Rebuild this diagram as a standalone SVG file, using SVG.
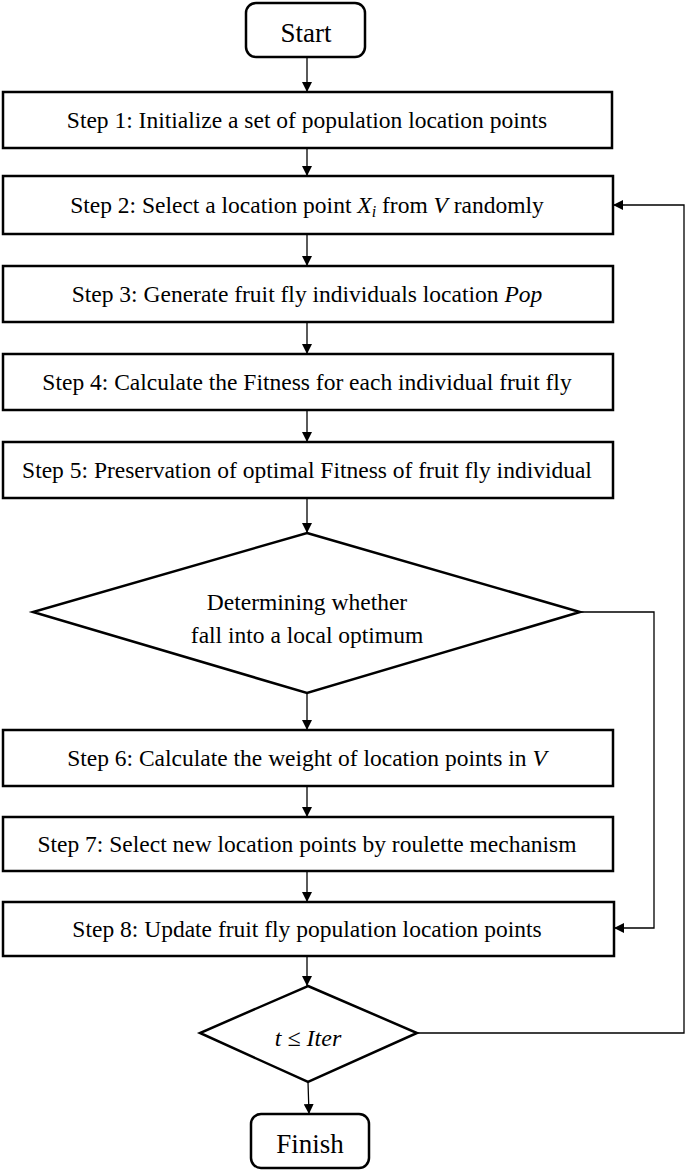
<svg xmlns="http://www.w3.org/2000/svg" width="685" height="1170" viewBox="0 0 685 1170">
<style>
.box{fill:#fff;stroke:#000;stroke-width:2.5}
.t{font-family:"Liberation Serif","Times New Roman",serif;font-size:23.5px;fill:#000;text-anchor:middle}
.c{fill:none;stroke:#000;stroke-width:1.3}
</style>
<defs>
<marker id="ah" viewBox="0 0 10 10" refX="10" refY="5" markerWidth="10" markerHeight="10" markerUnits="userSpaceOnUse" orient="auto">
<path d="M0,0 L10,5 L0,10 z" fill="#000"/>
</marker>
</defs>
<rect width="685" height="1170" fill="#fff"/>
<g id="connectors">
<line class="c" x1="307" y1="57" x2="307" y2="92" marker-end="url(#ah)"/>
<line class="c" x1="307" y1="148" x2="307" y2="176" marker-end="url(#ah)"/>
<line class="c" x1="307" y1="234" x2="307" y2="266" marker-end="url(#ah)"/>
<line class="c" x1="307" y1="322" x2="307" y2="354" marker-end="url(#ah)"/>
<line class="c" x1="307" y1="410" x2="307" y2="442" marker-end="url(#ah)"/>
<line class="c" x1="307" y1="498" x2="307" y2="533" marker-end="url(#ah)"/>
<line class="c" x1="307" y1="693" x2="307" y2="730" marker-end="url(#ah)"/>
<line class="c" x1="307" y1="786" x2="307" y2="817" marker-end="url(#ah)"/>
<line class="c" x1="307" y1="871" x2="307" y2="902" marker-end="url(#ah)"/>
<line class="c" x1="307" y1="956" x2="307" y2="986" marker-end="url(#ah)"/>
<line class="c" x1="308" y1="1082" x2="309" y2="1114" marker-end="url(#ah)"/>
<polyline class="c" points="580,612 654,612 654,928 614,928" marker-end="url(#ah)"/>
<polyline class="c" points="417,1033 684,1033 684,205 613,205" marker-end="url(#ah)"/>
</g>
<g id="start">
<rect class="box" x="246" y="3" width="119" height="54" rx="10"/>
<text class="t" x="306" y="42" style="font-size:27px">Start</text>
</g>
<g id="step1">
<rect class="box" x="3" y="92" width="609" height="56"/>
<text class="t" x="307" y="128">Step 1: Initialize a set of population location points</text>
</g>
<g id="step2">
<rect class="box" x="3" y="176" width="610" height="58"/>
<text class="t" x="307" y="213">Step 2: Select a location point <tspan font-style="italic">X<tspan font-size="16" dy="4">i</tspan></tspan><tspan dy="-4"> from </tspan><tspan font-style="italic">V</tspan> randomly</text>
</g>
<g id="step3">
<rect class="box" x="3" y="266" width="610" height="56"/>
<text class="t" x="307" y="302">Step 3: Generate fruit fly individuals location <tspan font-style="italic">Pop</tspan></text>
</g>
<g id="step4">
<rect class="box" x="3" y="354" width="610" height="56"/>
<text class="t" x="307" y="390">Step 4: Calculate the Fitness for each individual fruit fly</text>
</g>
<g id="step5">
<rect class="box" x="3" y="442" width="610" height="56"/>
<text class="t" x="307" y="478">Step 5: Preservation of optimal Fitness of fruit fly individual</text>
</g>
<g id="decision1">
<polygon class="box" points="307,533 580,612 307,693 33,612"/>
<text class="t" x="307" y="610">Determining whether</text>
<text class="t" x="307" y="643">fall into a local optimum</text>
</g>
<g id="step6">
<rect class="box" x="3" y="730" width="610" height="56"/>
<text class="t" x="307" y="766">Step 6: Calculate the weight of location points in <tspan font-style="italic">V</tspan></text>
</g>
<g id="step7">
<rect class="box" x="3" y="817" width="610" height="54"/>
<text class="t" x="307" y="852">Step 7: Select new location points by roulette mechanism</text>
</g>
<g id="step8">
<rect class="box" x="3" y="902" width="611" height="54"/>
<text class="t" x="307" y="937">Step 8: Update fruit fly population location points</text>
</g>
<g id="decision2">
<polygon class="box" points="308,986 417,1033 308,1082 200,1033"/>
<text class="t" x="308" y="1046" font-style="italic" style="font-size:24px">t ≤ Iter</text>
</g>
<g id="finish">
<rect class="box" x="251" y="1114" width="118" height="54" rx="10"/>
<text class="t" x="310" y="1153" style="font-size:27px">Finish</text>
</g>
</svg>
